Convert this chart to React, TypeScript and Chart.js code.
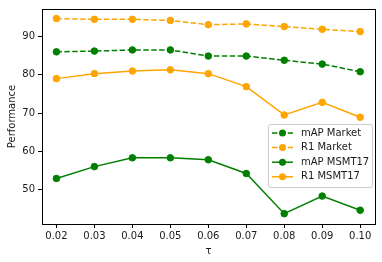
import React, { useEffect, useRef } from "react";
import { Chart, registerables } from "chart.js";
Chart.register(...registerables);

const taus = [0.02, 0.03, 0.04, 0.05, 0.06, 0.07, 0.08, 0.09, 0.1];
const mapMarket = [86.0, 86.2, 86.5, 86.5, 84.9, 84.9, 83.8, 82.8, 80.8];
const r1Market = [94.7, 94.5, 94.5, 94.2, 93.1, 93.3, 92.6, 91.9, 91.3];
const mapMsmt = [52.9, 56.0, 58.3, 58.3, 57.8, 54.2, 43.7, 48.3, 44.6];
const r1Msmt = [79.0, 80.3, 81.0, 81.3, 80.3, 76.9, 69.5, 72.8, 68.9];
const xTicks = [0.02, 0.03, 0.04, 0.05, 0.06, 0.07, 0.08, 0.09, 0.1];
const yTicks = [50, 60, 70, 80, 90];
const seriesLabels = ["mAP Market", "R1 Market", "mAP MSMT17", "R1 MSMT17"];

const GREEN = "#008000";
const ORANGE = "#FFA500";
const FONT = "DejaVu Sans";
const TEXT = "#1a1a1a";

export default function App() {
  const ref = useRef<HTMLCanvasElement>(null);
  useEffect(() => {
    document.body.style.margin = "0";
    const mk = (label: string, vals: number[], color: string, dashed: boolean) => ({
      label,
      data: taus.map((t, i) => ({ x: t, y: vals[i] })),
      borderColor: color,
      backgroundColor: color,
      pointBackgroundColor: color,
      pointBorderColor: color,
      pointRadius: 3.3,
      pointBorderWidth: 1,
      borderWidth: 1.5,
      borderDash: dashed ? [5.5, 2.4] : [],
      tension: 0,
      fill: false,
    });
    const frame = {
      id: "frame",
      afterDatasetsDraw(chart: any) {
        const { ctx, chartArea: a } = chart;
        ctx.save();
        ctx.strokeStyle = "#000";
        ctx.lineWidth = 1;
        ctx.strokeRect(Math.round(a.left) + 0.5, Math.round(a.top) + 0.5, Math.round(a.right - a.left), Math.round(a.bottom - a.top));
        ctx.restore();
      },
    };
    const legend = {
      id: "boxlegend",
      afterDraw(chart: any) {
        const { ctx, chartArea: a } = chart;
        const w = 104, h = 63;
        const x = a.right - 3 - w, y = a.bottom - 37 - h;
        ctx.save();
        ctx.fillStyle = "rgba(255,255,255,0.8)";
        ctx.strokeStyle = "#cccccc";
        ctx.lineWidth = 1;
        ctx.beginPath();
        (ctx as any).roundRect(x + 0.5, y + 0.5, w, h, 2.5);
        ctx.fill();
        ctx.stroke();
        ctx.font = `10px "${FONT}"`;
        ctx.textBaseline = "middle";
        chart.data.datasets.forEach((ds: any, i: number) => {
          const cy = y + 9 + i * 14.6;
          ctx.strokeStyle = ds.borderColor;
          ctx.lineWidth = 1.5;
          ctx.setLineDash(ds.borderDash);
          ctx.beginPath();
          ctx.moveTo(x + 4, cy);
          ctx.lineTo(x + 25, cy);
          ctx.stroke();
          ctx.setLineDash([]);
          ctx.fillStyle = ds.borderColor;
          ctx.beginPath();
          ctx.arc(x + 14.5, cy, 3.5, 0, Math.PI * 2);
          ctx.fill();
          ctx.fillStyle = TEXT;
          ctx.fillText(ds.label, x + 33, cy);
        });
        ctx.restore();
      },
    };
    const chart = new Chart(ref.current!, {
      type: "line",
      data: {
        datasets: [
          mk(seriesLabels[0], mapMarket, GREEN, true),
          mk(seriesLabels[1], r1Market, ORANGE, true),
          mk(seriesLabels[2], mapMsmt, GREEN, false),
          mk(seriesLabels[3], r1Msmt, ORANGE, false),
        ],
      },
      options: {
        animation: false,
        responsive: false,
        devicePixelRatio: 1,
        layout: { padding: { left: 0, right: 7, top: 6, bottom: 0 } },
        plugins: { legend: { display: false }, tooltip: { enabled: false } },
        scales: {
          x: {
            type: "linear",
            min: 0.0162,
            max: 0.1039,
            afterBuildTicks: (s: any) => { s.ticks = xTicks.map((v) => ({ value: v })); },
            afterFit: (s: any) => { s.height = 38; },
            ticks: {
              callback: (v: any) => Number(v).toFixed(2),
              font: { family: FONT, size: 10 },
              color: TEXT,
              padding: 2,
              maxRotation: 0,
              autoSkip: false,
            },
            grid: { display: true, drawOnChartArea: false, drawTicks: true, tickLength: 4, color: "#000" },
            border: { display: false },
            title: { display: true, text: "τ", font: { family: FONT, size: 10 }, color: TEXT, padding: { top: 0, bottom: 5 } },
          },
          y: {
            type: "linear",
            min: 41.0,
            max: 97.2,
            afterBuildTicks: (s: any) => { s.ticks = yTicks.map((v) => ({ value: v })); },
            afterFit: (s: any) => { s.width = 42; },
            ticks: {
              font: { family: FONT, size: 10 },
              color: TEXT,
              padding: 3,
            },
            grid: { display: true, drawOnChartArea: false, drawTicks: true, tickLength: 4, color: "#000" },
            border: { display: false },
            title: { display: true, text: "Performance", font: { family: FONT, size: 10 }, color: TEXT, padding: { top: 6, bottom: 0 } },
          },
        },
      },
      plugins: [frame, legend],
    } as any);
    return () => chart.destroy();
  }, []);
  return <canvas ref={ref} width={382} height={262} style={{ display: "block", width: 382, height: 262 }} />;
}
